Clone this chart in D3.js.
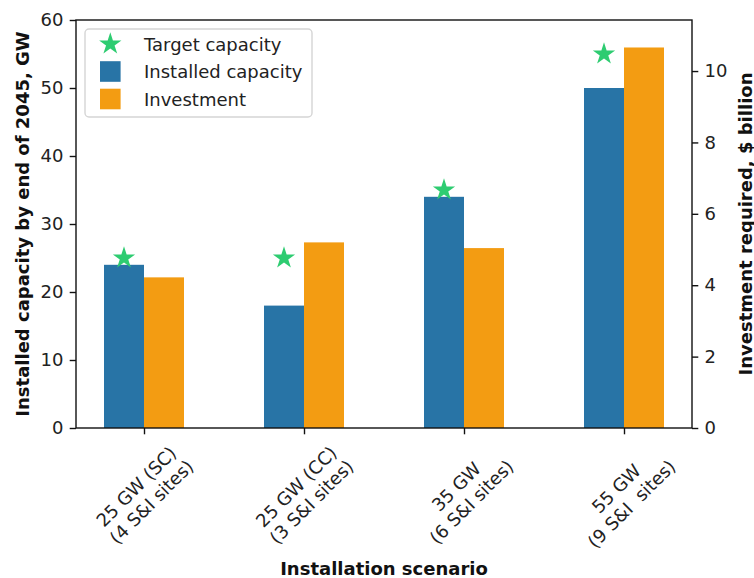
<!DOCTYPE html>
<html>
<head>
<meta charset="utf-8">
<script src="https://cdn.jsdelivr.net/npm/d3@7"></script>
<style>
  body { margin: 0; background: #fff; }
  text { font-family: "DejaVu Sans", sans-serif; }
</style>
</head>
<body>
<svg id="chart" width="754" height="578"></svg>
<script>
// Installation scenarios (two-line tick labels)
const scenarios = ["25 GW (SC)\n(4 S&I sites)", "25 GW (CC)\n(3 S&I sites)", "35 GW\n(6 S&I sites)", "55 GW\n(9 S&I  sites)"];
// Installed capacity by end of 2045, GW
const installed = [24, 18, 34, 50];
// Target capacity, GW
const target = [25, 25, 35, 55];
// Investment required, $ billion
const investment = [4.22, 5.2, 5.04, 10.66];
// Axis ticks
const capTicks = [0, 10, 20, 30, 40, 50, 60];
const invTicks = [0, 2, 4, 6, 8, 10];

const COLORS = { installed: "#2874A6", investment: "#F39C12", target: "#2ECC71" };
const FS = 18;
const TICK = 6.3, PAD = 6.3, LW = 1.4;

const plot = { left: 76, right: 692, top: 20, bottom: 428 };

const svg = d3.select("#chart");
svg.append("rect").attr("width", 754).attr("height", 578).attr("fill", "#fff");

const x = d3.scaleLinear().domain([-0.425, 3.425]).range([plot.left, plot.right]);
const yCap = d3.scaleLinear().domain([0, 60]).range([plot.bottom, plot.top]);
const yInv = d3.scaleLinear().domain([0, 11.43]).range([plot.bottom, plot.top]);
const barW = 0.25;

// Bars: installed capacity (left axis)
svg.append("g").selectAll("rect").data(installed).join("rect")
  .attr("x", (d, i) => x(i - barW))
  .attr("width", (d, i) => x(i) - x(i - barW))
  .attr("y", d => yCap(d))
  .attr("height", d => yCap(0) - yCap(d))
  .attr("fill", COLORS.installed);

// Bars: investment (right axis)
svg.append("g").selectAll("rect").data(investment).join("rect")
  .attr("x", (d, i) => x(i))
  .attr("width", (d, i) => x(i + barW) - x(i))
  .attr("y", d => yInv(d))
  .attr("height", d => yInv(0) - yInv(d))
  .attr("fill", COLORS.investment);

// Target capacity stars above the installed bars
const star = d3.symbol().type(d3.symbolStar).size(154);
svg.append("g").selectAll("path").data(target).join("path")
  .attr("d", star)
  .attr("transform", (d, i) => `translate(${x(i - barW / 2)},${yCap(d)})`)
  .attr("fill", COLORS.target);

// Frame
svg.append("rect")
  .attr("x", plot.left).attr("y", plot.top)
  .attr("width", plot.right - plot.left).attr("height", plot.bottom - plot.top)
  .attr("fill", "none").attr("stroke", "#111").attr("stroke-width", LW);

function styleAxis(g) {
  g.select(".domain").remove();
  g.selectAll(".tick line").attr("stroke", "#111").attr("stroke-width", LW);
  g.selectAll(".tick text").attr("fill", "#222").attr("font-size", FS)
    .attr("font-family", "DejaVu Sans, sans-serif");
}

svg.append("g").attr("transform", `translate(${plot.left},0)`)
  .call(d3.axisLeft(yCap).tickValues(capTicks).tickSize(TICK).tickPadding(PAD).tickFormat(d3.format("d")))
  .call(styleAxis);

svg.append("g").attr("transform", `translate(${plot.right},0)`)
  .call(d3.axisRight(yInv).tickValues(invTicks).tickSize(TICK).tickPadding(PAD).tickFormat(d3.format("d")))
  .call(styleAxis);

const xAxis = svg.append("g").attr("transform", `translate(0,${plot.bottom})`)
  .call(d3.axisBottom(x).tickValues(d3.range(scenarios.length)).tickSize(TICK).tickFormat(""))
  .call(styleAxis);

// Rotated (45°) two-line category labels, centred under each tick
const lineH = FS * 1.2;
const labelTop = plot.bottom + TICK + PAD;
scenarios.forEach((s, i) => {
  const lines = s.split("\n");
  const outer = svg.append("g");
  const inner = outer.append("g");
  const t = inner.append("text")
    .attr("text-anchor", "middle")
    .attr("font-size", FS)
    .attr("fill", "#222")
    .style("white-space", "pre");
  lines.forEach((ln, j) => t.append("tspan").attr("x", 0).attr("y", j * lineH).text(ln));
  const w = d3.max(t.selectAll("tspan").nodes(), n => n.getComputedTextLength());
  const blockH = (lines.length - 1) * lineH + 1.164 * FS;
  const cy = -0.928 * FS + blockH / 2;
  const H = (w + blockH) * Math.SQRT1_2;
  inner.attr("transform", `translate(0,${-cy})`);
  outer.attr("transform", `translate(${x(i)},${labelTop + H / 2}) rotate(-45)`);
});

// Axis titles
svg.append("text")
  .attr("x", (plot.left + plot.right) / 2).attr("y", 575)
  .attr("text-anchor", "middle").attr("font-size", FS).attr("font-weight", "bold").attr("fill", "#111")
  .text("Installation scenario");

svg.append("text")
  .attr("transform", `translate(22.7,${(plot.top + plot.bottom) / 2}) rotate(-90)`)
  .attr("text-anchor", "middle").attr("dominant-baseline", "central")
  .attr("font-size", FS).attr("font-weight", "bold").attr("fill", "#111")
  .text("Installed capacity by end of 2045, GW");

svg.append("text")
  .attr("transform", `translate(745,${(plot.top + plot.bottom) / 2}) rotate(-90)`)
  .attr("text-anchor", "middle").attr("dominant-baseline", "central")
  .attr("font-size", FS).attr("font-weight", "bold").attr("fill", "#111")
  .text("Investment required, $ billion");

// Legend
const legendItems = [
  { label: "Target capacity", kind: "star", color: COLORS.target },
  { label: "Installed capacity", kind: "square", color: COLORS.installed },
  { label: "Investment", kind: "square", color: COLORS.investment }
];
const lg = svg.append("g");
lg.append("rect")
  .attr("x", 85).attr("y", 29).attr("width", 227).attr("height", 88).attr("rx", 4)
  .attr("fill", "#fff").attr("fill-opacity", 0.8)
  .attr("stroke", "#d5d5d5").attr("stroke-width", 1.4);
legendItems.forEach((item, k) => {
  const cy = 44 + k * 27.5;
  if (item.kind === "star") {
    lg.append("path").attr("d", star).attr("transform", `translate(110.3,${cy})`).attr("fill", item.color);
  } else {
    lg.append("rect").attr("x", 100).attr("y", cy - 10.3).attr("width", 20.6).attr("height", 20.6).attr("fill", item.color);
  }
  lg.append("text").attr("x", 144).attr("y", cy).attr("dominant-baseline", "central")
    .attr("font-size", FS).attr("fill", "#222").text(item.label);
});
</script>
</body>
</html>
